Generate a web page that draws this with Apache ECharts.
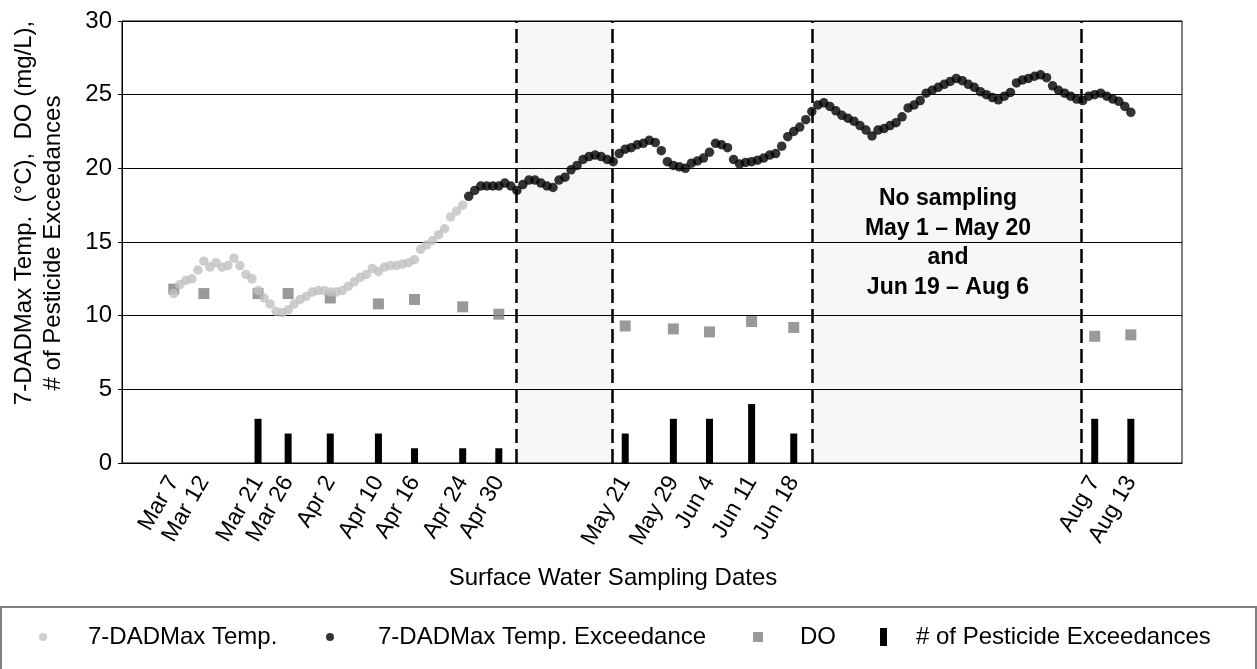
<!DOCTYPE html>
<html>
<head>
<meta charset="utf-8">
<script src="https://cdn.jsdelivr.net/npm/echarts@6/dist/echarts.min.js"></script>
<style>html,body{margin:0;padding:0;background:#fff;}#chart{width:1257px;height:669px;}</style>
</head>
<body>
<div id="chart"></div>
<script>
// Day offsets are counted from Mar 7 (day 0).
const sampleLabels = ['Mar 7','Mar 12','Mar 21','Mar 26','Apr 2','Apr 10','Apr 16','Apr 24','Apr 30','May 21','May 29','Jun 4','Jun 11','Jun 18','Aug 7','Aug 13'];
const sampleDays = [0,5,14,19,26,34,40,48,54,75,83,89,96,103,153,159];
const doValues = [11.8,11.5,11.5,11.5,11.2,10.8,11.1,10.6,10.1,9.3,9.1,8.9,9.6,9.2,8.6,8.7];
const pesticideCounts = [0,0,3,2,2,2,1,1,1,2,3,3,4,2,3,3];

// 7-DADMax temperature, daily from Mar 7 (day 0) to Apr 24 (day 48)
const tempStartDay = 0;
const tempValues = [11.5,12.1,12.4,12.5,13.1,13.7,13.3,13.6,13.3,13.4,13.9,13.4,12.8,12.5,11.7,11.2,10.8,10.3,10.2,10.4,
  10.8,11.1,11.3,11.6,11.7,11.7,11.6,11.6,11.7,12.0,12.3,12.6,12.8,13.2,13.0,13.3,13.4,13.4,13.5,13.6,
  13.8,14.5,14.8,15.1,15.5,15.9,16.7,17.1,17.5];
// 7-DADMax temperature exceedance, daily from Apr 25 (day 49) to Aug 13 (day 159)
const exceedStartDay = 49;
const exceedValues = [18.1,18.5,18.8,18.8,18.8,18.8,19.0,18.8,18.5,18.9,19.2,19.2,19.0,18.8,18.7,19.2,19.4,19.9,20.2,20.6,
  20.8,20.9,20.8,20.6,20.45,21.0,21.3,21.4,21.6,21.7,21.9,21.75,21.2,20.45,20.2,20.1,20.0,20.35,20.5,20.7,
  21.1,21.7,21.6,21.4,20.6,20.3,20.4,20.45,20.55,20.7,20.9,21.0,21.5,22.15,22.5,22.8,23.3,23.85,24.3,24.45,
  24.2,23.9,23.6,23.4,23.2,22.9,22.6,22.2,22.6,22.7,22.9,23.1,23.5,24.1,24.3,24.6,25.1,25.3,25.5,25.7,
  25.9,26.1,25.95,25.7,25.5,25.2,25.0,24.8,24.65,24.9,25.15,25.8,26.0,26.1,26.25,26.35,26.15,25.6,25.3,25.1,
  24.9,24.7,24.6,24.9,25.0,25.1,24.9,24.7,24.55,24.2,23.8];

// No-sampling periods (boundaries, in day offsets)
const gapPeriods = [[56.9, 72.9], [106.0, 150.7]];

const yTicks = [0, 30, 5];
const FONT = 'Liberation Sans, Arial, sans-serif';

const tempData = tempValues.map((v, i) => [tempStartDay + i, v]);
const exceedData = exceedValues.map((v, i) => [exceedStartDay + i, v]);
const doData = doValues.map((v, i) => [sampleDays[i], v]);
const pestData = pesticideCounts.map((v, i) => [sampleDays[i], v]);

const chart = echarts.init(document.getElementById('chart'), null, {renderer: 'canvas'});

function legendFor(name, icon, left, w, h, gap) {
  return {
    orient: 'horizontal', top: 625, left: left, padding: 0, selectedMode: false,
    itemWidth: w, itemHeight: h,
    textStyle: {fontSize: 24, color: '#000', fontFamily: FONT, padding: [0, 0, 0, gap]},
    data: [{name: name, icon: icon}]
  };
}

chart.setOption({
  animation: false,
  backgroundColor: '#fff',
  textStyle: {fontFamily: FONT},
  grid: {left: 122, right: 75, top: 21, bottom: 206, show: true, borderColor: '#000', borderWidth: 1, backgroundColor: 'transparent'},
  xAxis: {
    type: 'value', min: -8.6, max: 167.5,
    axisLine: {show: true, onZero: false, lineStyle: {color: '#000', width: 1}},
    axisTick: {show: false},
    splitLine: {show: false},
    axisLabel: {
      customValues: sampleDays,
      formatter: function (v) { const k = sampleDays.indexOf(Math.round(v)); return k >= 0 ? sampleLabels[k] : ''; },
      rotate: 60, fontSize: 23, color: '#000', margin: 15, fontFamily: FONT, hideOverlap: false
    }
  },
  yAxis: {
    type: 'value', min: yTicks[0], max: yTicks[1], interval: yTicks[2],
    axisLine: {show: true, onZero: false, lineStyle: {color: '#000'}},
    axisTick: {show: true, length: 4, lineStyle: {color: '#000'}},
    splitLine: {show: true, lineStyle: {color: '#000', width: 1}},
    axisLabel: {fontSize: 24, color: '#000', margin: 10, fontFamily: FONT}
  },
  legend: [
    legendFor('7-DADMax Temp.', 'circle', 39, 8, 8, 36),
    legendFor('7-DADMax Temp. Exceedance', 'circle', 326, 8, 8, 39),
    legendFor('DO', 'rect', 753, 10, 10, 32),
    legendFor('# of Pesticide Exceedances', 'rect', 880, 7, 18, 24)
  ],
  graphic: [
    {type: 'rect', silent: true, shape: {x: 1, y: 607, width: 1255, height: 70}, style: {fill: 'none', stroke: '#808080', lineWidth: 2}},
    {type: 'text', silent: true, x: 24, y: 213, rotation: Math.PI / 2,
      style: {text: '7-DADMax Temp.  (°C),  DO (mg/L),', font: '24px ' + FONT, fill: '#000', textAlign: 'center', textVerticalAlign: 'middle'}},
    {type: 'text', silent: true, x: 53, y: 243, rotation: Math.PI / 2,
      style: {text: '# of Pesticide Exceedances', font: '24px ' + FONT, fill: '#000', textAlign: 'center', textVerticalAlign: 'middle'}},
    {type: 'text', silent: true, x: 613, y: 578,
      style: {text: 'Surface Water Sampling Dates', font: '24px ' + FONT, fill: '#000', textAlign: 'center', textVerticalAlign: 'middle'}},
    {type: 'text', silent: true, x: 948, y: 184, z: 10,
      style: {text: 'No sampling\nMay 1 – May 20\nand\nJun 19 – Aug 6', font: 'bold 23px ' + FONT, lineHeight: 29.5, fill: '#000', textAlign: 'center', textVerticalAlign: 'top'}}
  ],
  series: [
    {
      name: '# of Pesticide Exceedances', type: 'bar', data: pestData, barWidth: 7,
      itemStyle: {color: '#000'}, z: 2,
      markArea: {silent: true, itemStyle: {color: 'rgba(0,0,0,0.03)'},
        data: gapPeriods.map(p => [{xAxis: p[0]}, {xAxis: p[1]}])},
      markLine: {silent: true, symbol: ['none', 'none'], label: {show: false},
        lineStyle: {type: [14, 6], width: 2.5, color: '#000'},
        data: gapPeriods.flat().map(x => ({xAxis: x}))}
    },
    {name: 'DO', type: 'scatter', data: doData, symbol: 'rect', symbolSize: 11, itemStyle: {color: '#808080'}, z: 3},
    {name: '7-DADMax Temp.', type: 'scatter', data: tempData, symbol: 'circle', symbolSize: 9.5, itemStyle: {color: '#c0c0c0'}, z: 4},
    {name: '7-DADMax Temp. Exceedance', type: 'scatter', data: exceedData, symbol: 'circle', symbolSize: 9.5, itemStyle: {color: '#000'}, z: 5}
  ]
});
</script>
</body>
</html>
